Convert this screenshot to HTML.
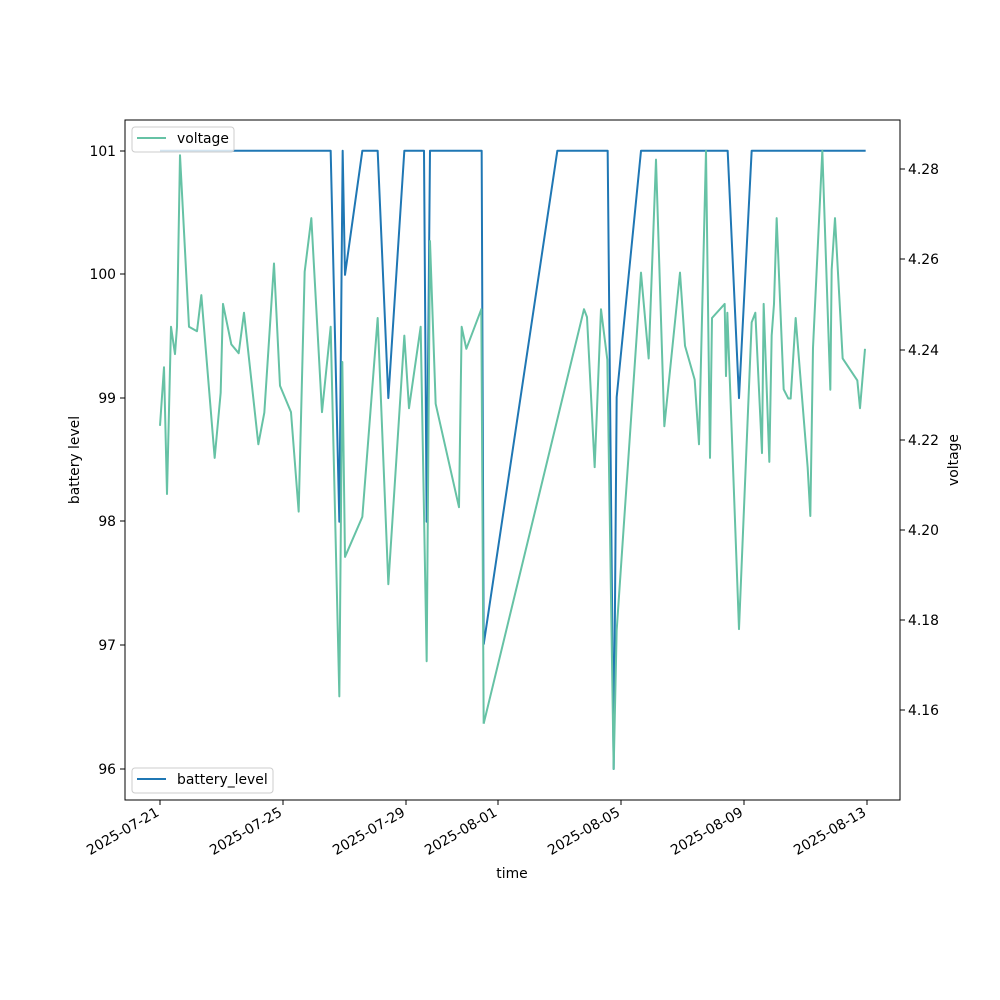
<!DOCTYPE html>
<html><head><meta charset="utf-8"><style>body{margin:0;background:#fff}svg{display:block}text{font-family:"DejaVu Sans","Liberation Sans",sans-serif;font-size:13.9px;fill:#000}</style></head><body>
<svg width="1000" height="1000" viewBox="0 0 1000 1000" xmlns="http://www.w3.org/2000/svg">
<rect width="1000" height="1000" fill="#fff"/>
<g transform="translate(125,120) scale(0.33333,0.44)" fill="none" stroke-linejoin="round">
<polyline vector-effect="non-scaling-stroke" stroke="#1f77b4" stroke-width="2" points="105,70 617,70 643,913 653,70 660,352 712,70 758,70 790,632 838,70 897,70 905,913 915,70 1070,70 1076,1192"/>
</g>
<g transform="translate(510,120) scale(0.33333,0.44)" fill="none" stroke-linejoin="round">
<polyline vector-effect="non-scaling-stroke" stroke="#1f77b4" stroke-width="2" points="-79,1192 142,70 293,70 311,1475 320,630 393,70 653,70 687,632 725,70 1067,70"/>
</g>
<g transform="translate(125,120) scale(0.33333,0.44)" fill="none" stroke-linejoin="round">
<polyline vector-effect="non-scaling-stroke" stroke="#66c2a5" stroke-width="2" points="105,695 117,562 126,850 138,470 150,532 156,470 165,80 192,470 216,480 229,398 269,768 287,620 294,418 319,510 341,530 357,438 400,737 418,665 447,326 465,604 498,664 521,890 539,345 559,223 591,664 617,470 643,1310 652,550 660,993 712,902 758,450 790,1055 838,490 852,655 887,470 905,1230 915,275 932,645 1002,880 1010,470 1024,520 1069,430 1076,1372"/>
</g>
<g transform="translate(510,120) scale(0.33333,0.44)" fill="none" stroke-linejoin="round">
<polyline vector-effect="non-scaling-stroke" stroke="#66c2a5" stroke-width="2" points="-79,1372 222,430 231,448 254,789 273,430 292,545 311,1475 320,1160 393,347 416,542 438,90 463,696 510,347 525,513 554,590 567,737 588,70 600,768 606,450 644,418 648,582 652,438 687,1157 725,460 736,438 756,757 761,418 778,777 785,490 792,418 800,223 821,612 835,633 842,633 857,450 893,790 901,900 909,518 937,70 961,613 965,340 975,223 998,542 1042,592 1050,655 1065,520"/>
</g>
<rect x="125" y="120" width="775" height="680" fill="none" stroke="#000" stroke-width="1"/>
<g stroke="#000" stroke-width="1">
<line x1="120" y1="769" x2="125" y2="769"/><line x1="120" y1="645" x2="125" y2="645"/><line x1="120" y1="521" x2="125" y2="521"/><line x1="120" y1="398" x2="125" y2="398"/><line x1="120" y1="274" x2="125" y2="274"/><line x1="120" y1="151" x2="125" y2="151"/>
<line x1="900" y1="710" x2="905" y2="710"/><line x1="900" y1="620" x2="905" y2="620"/><line x1="900" y1="530" x2="905" y2="530"/><line x1="900" y1="440" x2="905" y2="440"/><line x1="900" y1="350" x2="905" y2="350"/><line x1="900" y1="259" x2="905" y2="259"/><line x1="900" y1="169" x2="905" y2="169"/>
<line x1="160" y1="800" x2="160" y2="805"/><line x1="283" y1="800" x2="283" y2="805"/><line x1="406" y1="800" x2="406" y2="805"/><line x1="498" y1="800" x2="498" y2="805"/><line x1="621" y1="800" x2="621" y2="805"/><line x1="744" y1="800" x2="744" y2="805"/><line x1="867" y1="800" x2="867" y2="805"/>
</g>
<g text-anchor="end">
<text x="116" y="774">96</text><text x="116" y="650">97</text><text x="116" y="526">98</text><text x="116" y="403">99</text><text x="116" y="279">100</text><text x="116" y="156">101</text>
</g>
<g>
<text x="908" y="715">4.16</text><text x="908" y="625">4.18</text><text x="908" y="535">4.20</text><text x="908" y="445">4.22</text><text x="908" y="355">4.24</text><text x="908" y="264">4.26</text><text x="908" y="174">4.28</text>
</g>
<g text-anchor="end">
<text transform="translate(160,815) rotate(-30)">2025-07-21</text>
<text transform="translate(283,815) rotate(-30)">2025-07-25</text>
<text transform="translate(406,815) rotate(-30)">2025-07-29</text>
<text transform="translate(498,815) rotate(-30)">2025-08-01</text>
<text transform="translate(621,815) rotate(-30)">2025-08-05</text>
<text transform="translate(744,815) rotate(-30)">2025-08-09</text>
<text transform="translate(867,815) rotate(-30)">2025-08-13</text>
</g>
<text x="512" y="878" text-anchor="middle">time</text>
<text transform="translate(79,460) rotate(-90)" text-anchor="middle">battery level</text>
<text transform="translate(958,460) rotate(-90)" text-anchor="middle">voltage</text>
<rect x="132" y="127" width="102" height="25" rx="3" fill="#fff" fill-opacity="0.8" stroke="#ccc"/>
<line x1="137" y1="138" x2="166" y2="138" stroke="#66c2a5" stroke-width="2"/>
<text x="177" y="143">voltage</text>
<rect x="132" y="768" width="141" height="25" rx="3" fill="#fff" fill-opacity="0.8" stroke="#ccc"/>
<line x1="137" y1="779" x2="166" y2="779" stroke="#1f77b4" stroke-width="2"/>
<text x="177" y="784">battery_level</text>
</svg>
</body></html>
